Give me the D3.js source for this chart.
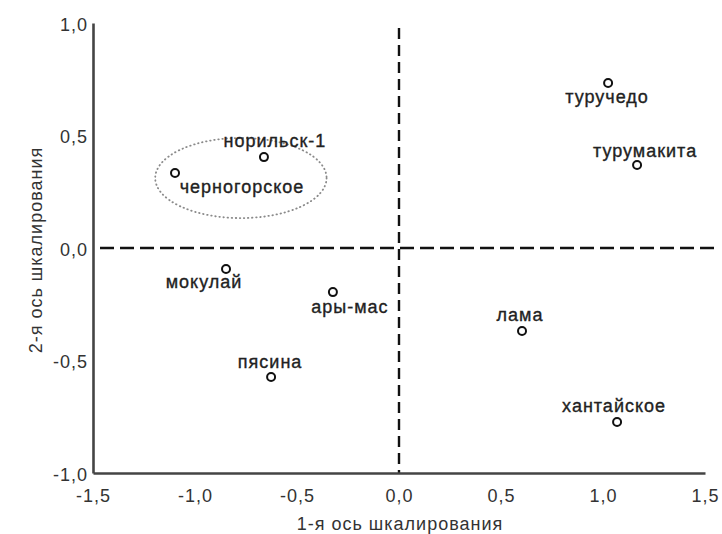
<!DOCTYPE html>
<html><head><meta charset="utf-8">
<script src="https://cdn.jsdelivr.net/npm/d3@7"></script>
<style>
html,body{margin:0;padding:0;background:#fff;}
text{font-family:"Liberation Sans",Arial,sans-serif;letter-spacing:1px;}
</style></head>
<body>
<svg id="chart" width="722" height="534"></svg>
<script>
// ---- data ----
const sites = ["туручедо","турумакита","лама","хантайское","норильск-1","черногорское","мокулай","ары-мас","пясина"];
const axis1 = [1.025, 1.167, 0.603, 1.069, -0.662, -1.098, -0.848, -0.324, -0.627];
const axis2 = [0.733, 0.369, -0.369, -0.773, 0.404, 0.333, -0.093, -0.196, -0.573];
const xTicks = [-1.5, -1.0, -0.5, 0.0, 0.5, 1.0, 1.5];
const yTicks = [-1.0, -0.5, 0.0, 0.5, 1.0];
const xTitle = "1-я ось шкалирования";
const yTitle = "2-я ось шкалирования";
// grouping ellipse (centre and radii in axis units)
const groupCenter = [-0.775, 0.311];
const groupRadii = [0.42, 0.178];

// ---- layout ----
const svg = d3.select("#chart");
const x = d3.scaleLinear().domain([-1.5, 1.5]).range([93, 705]);
const y = d3.scaleLinear().domain([-1, 1]).range([473, 23]);
const fmt = v => d3.format(".1f")(v).replace("\u2212", "-").replace(".", ",");
const tickColor = "#333";
const fs = "18px";

// label placement relative to point (px)
const labelOffset = {
  "туручедо": [-1, 20], "турумакита": [8, -8], "лама": [-2, -10], "хантайское": [-3, -10],
  "норильск-1": [11, -10], "черногорское": [67, 20], "мокулай": [-22, 19], "ары-мас": [17, 21], "пясина": [-1, -9]
};

// ellipse
svg.append("ellipse")
  .attr("cx", x(groupCenter[0])).attr("cy", y(groupCenter[1]))
  .attr("rx", x(groupRadii[0]) - x(0)).attr("ry", y(0) - y(groupRadii[1]))
  .attr("fill", "none").attr("stroke", "#8a8a8a").attr("stroke-width", 1.8)
  .attr("stroke-dasharray", "0.5,3.6").attr("stroke-linecap", "round");

// dashed zero lines
svg.append("line").attr("x1", x(-1.5) + 7).attr("x2", x(1.5) + 10).attr("y1", y(0)).attr("y2", y(0))
  .attr("stroke", "#111").attr("stroke-width", 2.4).attr("stroke-dasharray", "14,6");
svg.append("line").attr("x1", x(0)).attr("x2", x(0)).attr("y1", y(1) + 5).attr("y2", y(-1))
  .attr("stroke", "#111").attr("stroke-width", 2.4).attr("stroke-dasharray", "11,6");

// axes
const xAxis = d3.axisBottom(x).tickValues(xTicks).tickFormat(fmt).tickSize(0).tickPadding(16);
const yAxis = d3.axisLeft(y).tickValues(yTicks).tickFormat(fmt).tickSize(0).tickPadding(5);
const gx = svg.append("g").attr("transform", `translate(0,${y(-1)})`).call(xAxis);
const gy = svg.append("g").attr("transform", `translate(${x(-1.5)},0)`).call(yAxis);
[gx, gy].forEach(g => {
  g.select(".domain").attr("stroke", "#444").attr("stroke-width", 2.6);
  g.selectAll("text").attr("fill", tickColor).style("font-size", fs)
   .style("font-family", "'Liberation Sans', Arial, sans-serif");
});
gy.selectAll("text").attr("dy", "0.4em");

// titles
svg.append("text").attr("x", 400).attr("y", 530).attr("text-anchor", "middle")
  .attr("fill", tickColor).style("font-size", fs).text(xTitle);
svg.append("text").attr("transform", "translate(42,250) rotate(-90)").attr("text-anchor", "middle")
  .attr("fill", tickColor).style("font-size", fs).text(yTitle);

// points
const data = sites.map((s, i) => ({name: s, a: axis1[i], b: axis2[i]}));
const g = svg.append("g");
g.selectAll("circle").data(data).join("circle")
  .attr("cx", d => x(d.a)).attr("cy", d => y(d.b)).attr("r", 4)
  .attr("fill", "#fff").attr("stroke", "#111").attr("stroke-width", 2);
g.selectAll("text").data(data).join("text")
  .attr("x", d => x(d.a) + labelOffset[d.name][0])
  .attr("y", d => y(d.b) + labelOffset[d.name][1])
  .attr("text-anchor", "middle").attr("fill", "#222")
  .attr("stroke", "#222").attr("stroke-width", 0.35)
  .style("font-size", fs)
  .text(d => d.name);
</script>
</body></html>
